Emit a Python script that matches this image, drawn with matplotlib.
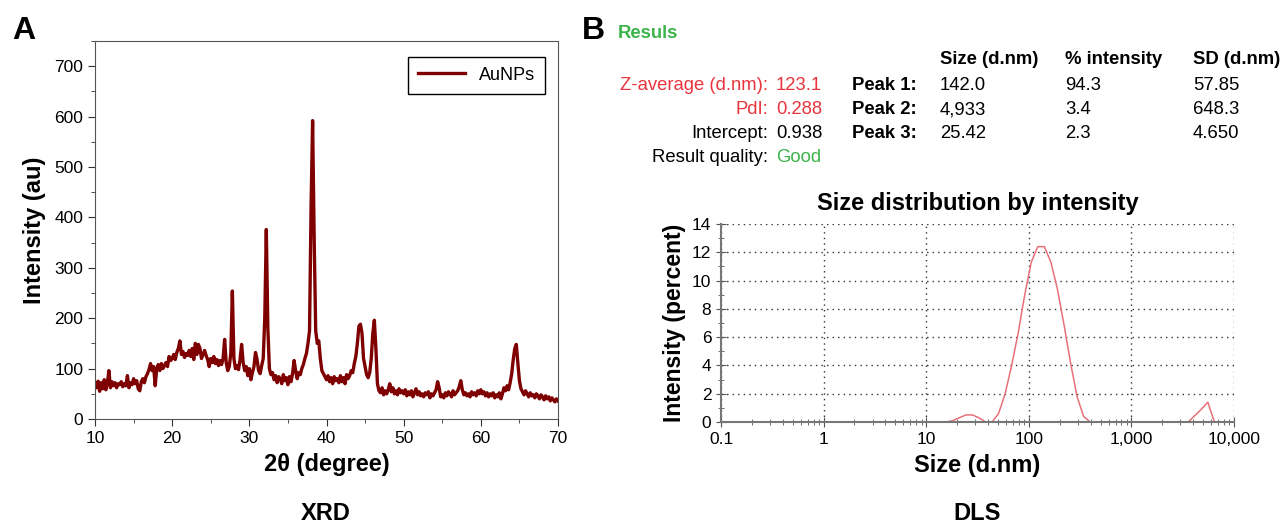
import numpy as np
import matplotlib
matplotlib.use("Agg")
import matplotlib.pyplot as plt
from matplotlib.ticker import MultipleLocator, FixedLocator, LogLocator, NullFormatter

plt.rcParams["font.family"] = ["Liberation Sans", "DejaVu Sans"]

# ---------------- XRD data (2theta step 0.2 deg, 10 -> 70) ----------------
xrd_intensity = [
    68, 62, 75, 55, 72, 60, 78, 58, 70, 96,
    62, 74, 66, 72, 62, 70, 68, 74, 64, 70,
    66, 86, 62, 72, 68, 80, 70, 76, 60, 56,
    74, 80, 72, 84, 90, 98, 110, 96, 104, 66,
    100, 108, 96, 110, 100, 106, 112, 104, 124, 116,
    120, 128, 118, 132, 140, 155, 128, 134, 122, 130,
    126, 136, 124, 140, 118, 150, 128, 148, 140, 120,
    128, 136, 126, 118, 104, 120, 112, 124, 110, 118,
    106, 116, 108, 120, 158, 112, 96, 104, 130, 254,
    120, 100, 106, 98, 118, 148, 112, 96, 104, 86,
    100, 78, 92, 104, 132, 118, 96, 90, 106, 120,
    200, 376, 180, 100, 88, 92, 78, 86, 72, 84,
    80, 70, 88, 76, 82, 68, 84, 74, 90, 116,
    96, 80, 92, 88, 100, 108, 120, 130, 150, 175,
    420, 592, 360, 175, 150, 155, 120, 96, 90, 84,
    78, 86, 74, 82, 70, 84, 76, 80, 72, 86,
    74, 82, 70, 88, 80, 86, 96, 92, 110, 124,
    150, 184, 188, 170, 120, 104, 88, 82, 92, 120,
    170, 196, 140, 70, 56, 52, 62, 48, 56, 50,
    58, 70, 54, 62, 50, 56, 48, 60, 52, 56,
    50, 58, 46, 54, 48, 56, 44, 52, 60, 48,
    54, 46, 50, 44, 52, 48, 54, 42, 50, 46,
    52, 58, 74, 62, 44, 48, 42, 52, 46, 54,
    50, 44, 56, 48, 52, 56, 64, 76, 58, 48,
    52, 46, 50, 44, 54, 48, 52, 46, 56, 50,
    58, 50, 54, 46, 52, 44, 50, 46, 52, 42,
    48, 44, 52, 40, 50, 62, 56, 66, 58, 72,
    90, 118, 140, 148, 110, 76, 60, 54, 48, 56,
    50, 44, 52, 46, 48, 42, 50, 46, 40, 48,
    44, 38, 46, 40, 44, 36, 42, 38, 34, 40,
    36,
]
two_theta = np.linspace(10, 70, len(xrd_intensity))

# ---------------- DLS data ----------------
dls_size = [
    0.4, 0.4632, 0.5365, 0.6213, 0.7195, 0.8332, 0.9649, 1.117, 1.294, 1.499,
    1.736, 2.010, 2.328, 2.696, 3.122, 3.615, 4.187, 4.849, 5.615, 6.503,
    7.531, 8.721, 10.10, 11.70, 13.54, 15.69, 18.17, 21.04, 24.36, 28.21,
    32.67, 37.84, 43.82, 50.75, 58.77, 68.06, 78.82, 91.28, 105.7, 122.4,
    141.8, 164.2, 190.1, 220.2, 255.0, 295.3, 342.0, 396.1, 458.7, 531.2,
    615.1, 712.4, 825.0, 955.4, 1106, 1281, 1484, 1718, 1990, 2305,
    2669, 3091, 3580, 4145, 4801, 5560, 6439, 7456, 8635, 10000,
]
dls_intensity = [
    0, 0, 0, 0, 0, 0, 0, 0, 0, 0,
    0, 0, 0, 0, 0, 0, 0, 0, 0, 0,
    0, 0, 0, 0, 0, 0, 0.1, 0.3, 0.5, 0.5,
    0.3, 0, 0, 0.6, 2.0, 4.0, 6.3, 9.0, 11.3, 12.4,
    12.4, 11.3, 9.4, 6.9, 4.2, 1.8, 0.4, 0, 0, 0,
    0, 0, 0, 0, 0, 0, 0, 0, 0, 0,
    0, 0, 0, 0.45, 0.9, 1.4, 0, 0, 0, 0,
]

# ---------------- results table ----------------
left_labels = ["Z-average (d.nm):", "PdI:", "Intercept:", "Result quality:"]
left_values = ["123.1", "0.288", "0.938", "Good"]
left_colors = ["#e8343c", "#e8343c", "black", "black"]
value_colors = ["#e8343c", "#e8343c", "black", "#3cb44b"]
peak_labels = ["Peak 1:", "Peak 2:", "Peak 3:"]
col_headers = ["Size (d.nm)", "% intensity", "SD (d.nm)"]
peak_size = ["142.0", "4,933", "25.42"]
peak_pct = ["94.3", "3.4", "2.3"]
peak_sd = ["57.85", "648.3", "4.650"]

W, H = 1281, 523
TXT = 13.3
LAB = 17
fig = plt.figure(figsize=(W / 100, H / 100), dpi=100)


def fx(px):
    return px / W


def fy(py):
    return 1 - py / H


# ---------------- panel A: XRD ----------------
ax1 = fig.add_axes([fx(95), fy(419), fx(558 - 95), (419 - 41) / H])
ax1.plot(two_theta, xrd_intensity, color="#7f0000", lw=2.4, label="AuNPs")
ax1.set_xlim(10, 70)
ax1.set_ylim(0, 750)
ax1.xaxis.set_major_locator(MultipleLocator(10))
ax1.xaxis.set_minor_locator(MultipleLocator(5))
ax1.yaxis.set_major_locator(FixedLocator(range(0, 701, 100)))
ax1.yaxis.set_minor_locator(MultipleLocator(50))
ax1.tick_params(which="both", direction="out", top=False, right=False,
                labelsize=12.5, color="#333333")
ax1.tick_params(which="major", length=5)
ax1.tick_params(which="minor", length=3)
for s in ax1.spines.values():
    s.set_color("#555555")
ax1.set_xlabel("2θ (degree)", fontsize=LAB, fontweight="bold", labelpad=5)
ax1.set_ylabel("Intensity (au)", fontsize=LAB, fontweight="bold", labelpad=6)
leg = ax1.legend(loc="upper right", fontsize=13, fancybox=False,
                 edgecolor="black", framealpha=1, handlelength=2.6,
                 borderpad=0.55, borderaxespad=0,
                 bbox_to_anchor=(0.972, 0.958))
leg.get_frame().set_linewidth(1.0)

fig.text(fx(12), fy(31), "A", fontsize=23, fontweight="bold", va="center")
fig.text(fx(326), fy(513), "XRD", fontsize=LAB, fontweight="bold",
         ha="center", va="center")

# ---------------- panel B: DLS ----------------
fig.text(fx(582), fy(31), "B", fontsize=23, fontweight="bold", va="center")
fig.text(fx(618), fy(33), "Resuls", fontsize=TXT, fontweight="bold",
         color="#3cb44b", va="center")

row_y = [85, 110, 134, 158]
head_y = 59
col_x = [940, 1065, 1193]
for h, cx in zip(col_headers, col_x):
    fig.text(fx(cx), fy(head_y), h, fontsize=TXT, fontweight="bold", va="center")
for lab, val, lc, vc, yy in zip(left_labels, left_values, left_colors,
                                value_colors, row_y):
    fig.text(fx(768), fy(yy), lab, fontsize=TXT, color=lc, ha="right", va="center")
    fig.text(fx(776), fy(yy), val, fontsize=TXT, color=vc, va="center")
for i, yy in enumerate(row_y[:3]):
    fig.text(fx(852), fy(yy), peak_labels[i], fontsize=TXT, fontweight="bold",
             va="center")
    for txt, cx in zip([peak_size[i], peak_pct[i], peak_sd[i]], col_x):
        fig.text(fx(cx), fy(yy), txt, fontsize=TXT, va="center")

ax2 = fig.add_axes([fx(721), fy(422), fx(1234 - 721), (422 - 224) / H])
ax2.plot(dls_size, dls_intensity, color="#e8707a", lw=1.1)
ax2.set_xscale("log")
ax2.set_xlim(0.1, 10000)
ax2.set_ylim(0, 14)
ax2.set_xticks([0.1, 1, 10, 100, 1000, 10000])
ax2.set_xticklabels(["0.1", "1", "10", "100", "1,000", "10,000"])
ax2.xaxis.set_minor_locator(LogLocator(base=10, subs=np.arange(2, 10)))
ax2.xaxis.set_minor_formatter(NullFormatter())
ax2.yaxis.set_major_locator(MultipleLocator(2))
ax2.yaxis.set_minor_locator(MultipleLocator(1))
ax2.grid(True, which="major", linestyle=(0, (1, 3)), color="#333333", lw=1.0)
ax2.set_axisbelow(True)
for side in ["top", "right"]:
    ax2.spines[side].set_visible(False)
for side in ["left", "bottom"]:
    ax2.spines[side].set_color("#777777")
    ax2.spines[side].set_linewidth(1.5)
ax2.tick_params(which="both", direction="inout", color="#555555",
                labelsize=12.5, top=False, right=False)
ax2.tick_params(which="major", length=7)
ax2.tick_params(which="minor", length=5)
ax2.set_title("Size distribution by intensity", fontsize=LAB, fontweight="bold",
              pad=10)
ax2.set_xlabel("Size (d.nm)", fontsize=LAB, fontweight="bold", labelpad=5)
ax2.set_ylabel("Intensity (percent)", fontsize=16.5, fontweight="bold", labelpad=4)

fig.text(fx(977), fy(513), "DLS", fontsize=LAB, fontweight="bold",
         ha="center", va="center")

fig.savefig("out.png", dpi=100)
